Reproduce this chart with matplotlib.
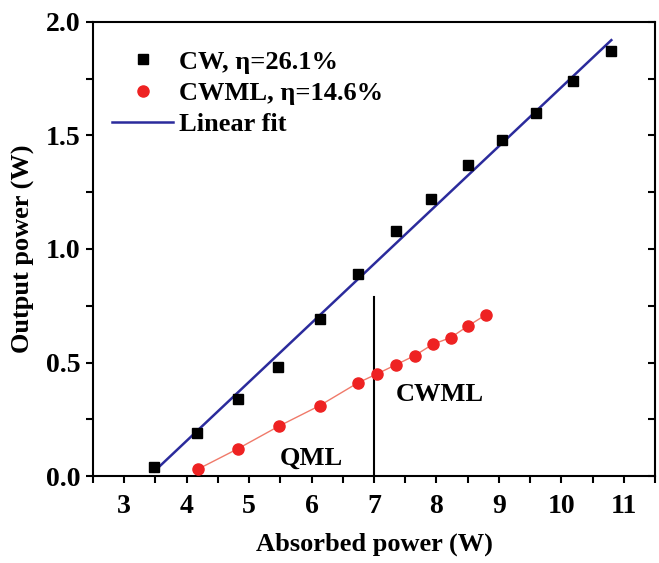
import matplotlib.pyplot as plt
from matplotlib.ticker import MultipleLocator

# CW output (squares)
cw_x = [3.48, 4.16, 4.82, 5.47, 6.13, 6.74, 7.35, 7.92, 8.50, 9.05, 9.60, 10.18, 10.79]
cw_y = [0.04, 0.19, 0.34, 0.48, 0.69, 0.89, 1.08, 1.22, 1.37, 1.48, 1.60, 1.74, 1.87]

# CWML output (circles)
ml_x = [4.18, 4.82, 5.48, 6.13, 6.74, 7.05, 7.35, 7.65, 7.94, 8.23, 8.50, 8.79]
ml_y = [0.03, 0.12, 0.22, 0.31, 0.41, 0.45, 0.49, 0.53, 0.58, 0.61, 0.66, 0.71]

# linear fit of CW data
fit_x = [3.48, 10.80]
fit_y = [0.02, 1.92]

threshold_x = 7.0

plt.rcParams['font.family'] = ['Liberation Serif', 'DejaVu Serif']
plt.rcParams['font.weight'] = 'bold'

fig = plt.figure(figsize=(6.59, 5.63), dpi=100, facecolor='w')
ax = fig.add_axes([0.141, 0.1545, 0.853, 0.8065])

ax.plot(ml_x, ml_y, '-', color='#f07a6a', lw=1.0, zorder=2)
ax.plot(ml_x, ml_y, 'o', color='#ee2222', ms=8, mec='#ee2222', zorder=3,
        label='CWML, η=14.6%')
ax.plot(cw_x, cw_y, 's', color='black', ms=6.5, zorder=3, label='CW, η=26.1%')
ax.plot(fit_x, fit_y, '-', color='#2b2b9c', lw=1.8, zorder=2, label='Linear fit')

ax.plot([threshold_x, threshold_x], [0, 0.79], color='black', lw=1.5)
ax.text(6.0, 0.08, 'QML', fontsize=19, fontweight='bold', ha='center', va='center')
ax.text(8.05, 0.36, 'CWML', fontsize=19, fontweight='bold', ha='center', va='center')

ax.set_xlim(2.5, 11.5)
ax.set_ylim(0, 2.0)
ax.xaxis.set_major_locator(MultipleLocator(1))
ax.xaxis.set_minor_locator(MultipleLocator(0.5))
ax.yaxis.set_major_locator(MultipleLocator(0.5))
ax.yaxis.set_minor_locator(MultipleLocator(0.25))
ax.yaxis.set_major_formatter(plt.FormatStrFormatter('%.1f'))

ax.tick_params(axis='both', which='both', direction='out', length=5, width=1.5,
               labelsize=20, right=True, top=False)
ax.tick_params(axis='x', which='major', pad=8)
ax.tick_params(axis='y', which='major', pad=4)
for lab in ax.get_xticklabels() + ax.get_yticklabels():
    lab.set_fontweight('bold')
# right side ticks point inward
for t in ax.yaxis.get_major_ticks() + ax.yaxis.get_minor_ticks():
    t.tick2line.set_marker(0)

for s in ax.spines.values():
    s.set_linewidth(1.5)

ax.set_xlabel('Absorbed power (W)', fontsize=19, fontweight='bold', labelpad=10)
ax.set_ylabel('Output power (W)', fontsize=19, fontweight='bold', labelpad=8)

h, l = ax.get_legend_handles_labels()
order = [1, 0, 2]
ax.legend([h[i] for i in order], [l[i] for i in order], loc='upper left',
          bbox_to_anchor=(-0.008, 0.99), frameon=False, fontsize=19,
          handlelength=2.3, handletextpad=0.25, labelspacing=0.3, borderaxespad=0.5)

fig.savefig('out.png', dpi=100)
